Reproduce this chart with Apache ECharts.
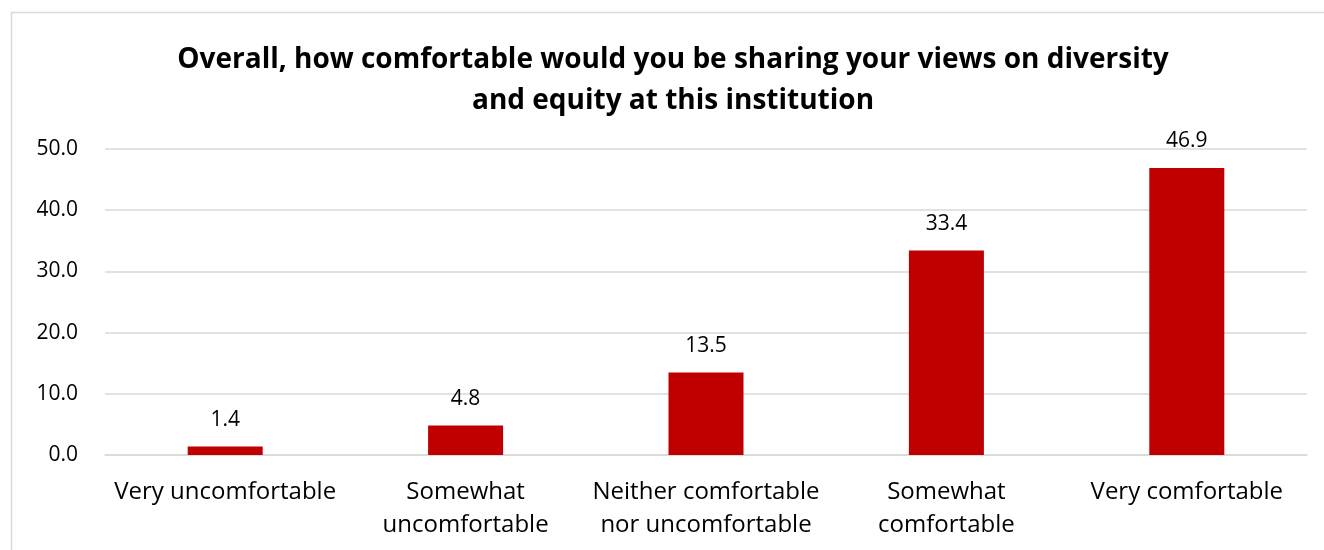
<!DOCTYPE html>
<html><head><meta charset="utf-8">
<script src="https://cdn.jsdelivr.net/npm/echarts@6/dist/echarts.min.js"></script>
<style>html,body{margin:0;padding:0;background:#fff}#c{width:1324px;height:550px}</style>
</head><body><div id="c"></div>
<script>
const categories = ["Very uncomfortable", "Somewhat\nuncomfortable", "Neither comfortable\nnor uncomfortable", "Somewhat\ncomfortable", "Very comfortable"];
const values = [1.4, 4.8, 13.5, 33.4, 46.9];
const yTicks = {min: 0, max: 50, interval: 10};
const titleText = "Overall, how comfortable would you be sharing your views on diversity\nand equity at this institution";

const FONT = "Open Sans";
const chart = echarts.init(document.getElementById('c'), null, {renderer: 'canvas'});
chart.setOption({
  animation: false,
  graphic: [{type: 'rect', shape: {x: 11.5, y: 12.5, width: 1400, height: 600}, style: {fill: 'none', stroke: '#d9d9d9', lineWidth: 1.5}, silent: true}],
  title: {
    text: titleText, left: 668, top: 35, textAlign: 'center',
    textStyle: {fontFamily: FONT, fontWeight: 'bold', fontSize: 28, lineHeight: 41, color: '#000'}
  },
  grid: {left: 105, right: 17, top: 149, bottom: 95, containLabel: false},
  xAxis: {
    type: 'category', data: categories,
    axisLine: {show: true, lineStyle: {color: '#d9d9d9', width: 1.5}},
    axisTick: {show: false},
    axisLabel: {fontFamily: FONT, fontSize: 24, lineHeight: 33, color: '#000', margin: 21, interval: 0}
  },
  yAxis: {
    type: 'value', min: yTicks.min, max: yTicks.max, interval: yTicks.interval,
    axisLine: {show: false}, axisTick: {show: false},
    splitLine: {lineStyle: {color: '#d9d9d9', width: 1.5}},
    axisLabel: {fontFamily: FONT, fontSize: 21, color: '#000', margin: 27, formatter: v => v.toFixed(1)}
  },
  series: [{
    type: 'bar', data: values, barWidth: 75,
    itemStyle: {color: '#c00000'},
    label: {show: true, position: 'top', distance: 16, fontFamily: FONT, fontSize: 21, color: '#000', formatter: p => p.value.toFixed(1)}
  }]
});
</script></body></html>
